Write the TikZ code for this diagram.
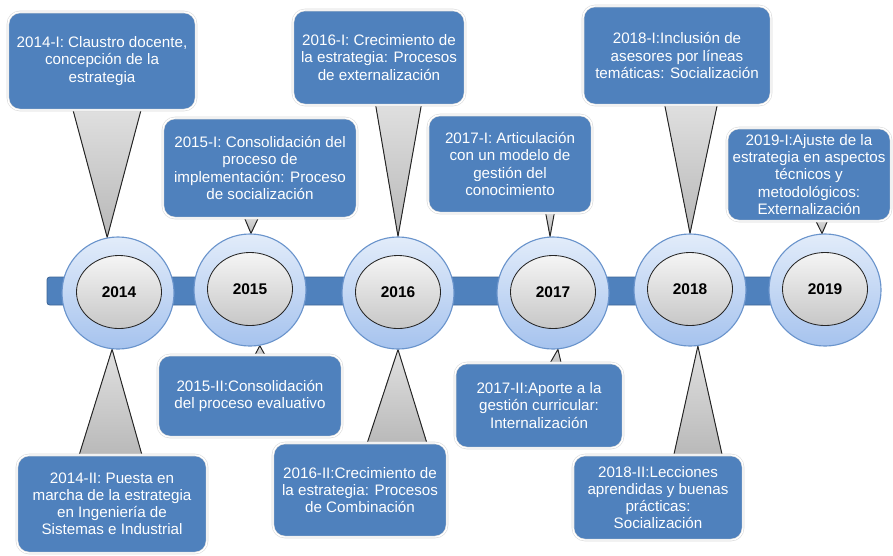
\documentclass[tikz,border=0pt]{standalone}
\usepackage{fontspec}
\setmainfont{Liberation Sans}
\usepackage{xcolor}
\usetikzlibrary{shapes.geometric, calc, backgrounds}
\definecolor{boxblue}{HTML}{4F81BD}
\definecolor{ringline}{HTML}{6A94CC}
\definecolor{ringtop}{HTML}{E2ECFA}
\definecolor{ringbottom}{HTML}{A6C3EE}
\tikzstyle{event} = [rectangle, rounded corners = 0.3cm, fill = boxblue, draw = black!15, double = white, double distance = 1pt, text = white, align = center, inner sep = 0pt, font = \fontsize{10.8}{12.2}\selectfont]
\tikzstyle{ring} = [circle, minimum size = 2.8cm, top color = ringtop, bottom color = ringbottom, draw = ringline, line width = 0.8pt]
\tikzstyle{core} = [ellipse, minimum width = 2.125cm, minimum height = 1.825cm, top color = black!4, bottom color = black!22, draw = black!85, line width = 0.6pt, font = \fontsize{11}{13}\selectfont\bfseries]
\tikzstyle{pointer} = [top color = black!12, bottom color = black!28, draw = black!85, line width = 0.7pt, line join = round]
\tikzstyle{bar} = [fill = boxblue, draw = boxblue!80!black, rounded corners = 2pt, line width = 0.6pt]

\begin{document}
\begin{tikzpicture}[x = 0.025cm, y = -0.025cm]
        \useasboundingbox (0,0) rectangle (893,555);
        % draw years
        \node[ring] (c14) at (118,293) {};
        \node[core] (e14) at (119,292) {2014};
        \node[ring] (c15) at (250,290) {};
        \node[core] (e15) at (250,289) {2015};
        \node[ring] (c16) at (398,293) {};
        \node[core] (e16) at (398,292) {2016};
        \node[ring] (c17) at (553,293) {};
        \node[core] (e17) at (553,292) {2017};
        \node[ring] (c18) at (690,290) {};
        \node[core] (e18) at (690,289) {2018};
        \node[ring] (c19) at (825,290) {};
        \node[core] (e19) at (825,289) {2019};

        % draw upper events
        \node[event, minimum width = 4.7cm, minimum height = 2.45cm] (b14a) at (102,61)
            {2014-I:  Claustro docente,\\ concepción de la\\ estrategia};
        \node[event, minimum width = 4.85cm, minimum height = 2.5cm] (b15a) at (260,168)
            {2015-I: Consolidación del\\ proceso de\\ implementación: Proceso\\ de socialización};
        \node[event, minimum width = 4.3cm, minimum height = 2.375cm] (b16a) at (379,57.5)
            {2016-I: Crecimiento de\\ la estrategia: Procesos\\ de externalización};
        \node[event, minimum width = 4.1cm, minimum height = 2.45cm] (b17a) at (510,164)
            {2017-I: Articulación\\ con un modelo de\\ gestión del\\ conocimiento};
        \node[event, minimum width = 4.7cm, minimum height = 2.475cm] (b18a) at (677,55.5)
            {2018-I:Inclusión de\\ asesores por líneas\\ temáticas: Socialización};
        \node[event, minimum width = 4.1cm, minimum height = 2.325cm] (b19a) at (809,174.5)
            {2019-I:Ajuste de la\\ estrategia en aspectos\\ técnicos y\\ metodológicos:\\ Externalización};

        % draw lower events
        \node[event, minimum width = 4.75cm, minimum height = 2.45cm] (b14b) at (112,504)
            {2014-II:  Puesta en\\ marcha de la estrategia\\ en Ingeniería de\\ Sistemas e Industrial};
        \node[event, minimum width = 4.6cm, minimum height = 2.05cm] (b15b) at (250,396)
            {2015-II:Consolidación\\ del proceso evaluativo};
        \node[event, minimum width = 4.35cm, minimum height = 2.35cm] (b16b) at (360,490)
            {2016-II:Crecimiento de\\ la estrategia: Procesos\\ de Combinación};
        \node[event, minimum width = 4.2cm, minimum height = 2.125cm] (b17b) at (539,405.5)
            {2017-II:Aporte a la\\ gestión curricular:\\ Internalización};
        \node[event, minimum width = 4.25cm, minimum height = 2.125cm] (b18b) at (658,497.5)
            {2018-II:Lecciones\\ aprendidas y buenas\\ prácticas:\\ Socialización};

        % draw bar and pointers
        \begin{pgfonlayer}{background}
            \draw[bar] (47,277) rectangle (860,305);
            \filldraw[pointer] ($(b14a.south)+(-30,-4)$) -- ($(b14a.south)+(40,-4)$) -- (c14.101) -- cycle;
            \filldraw[pointer] ($(b15a.south)+(-17,-4)$) -- ($(b15a.south)+(0,-4)$) -- (c15.89) -- cycle;
            \filldraw[pointer] ($(b16a.south)+(-4,-4)$) -- ($(b16a.south)+(43,-4)$) -- (c16.north) -- cycle;
            \filldraw[pointer] ($(b17a.south)+(35,-4)$) -- ($(b17a.south)+(45,-4)$) -- (c17.93) -- cycle;
            \filldraw[pointer] ($(b18a.south)+(-13,-4)$) -- ($(b18a.south)+(41,-4)$) -- (c18.north) -- cycle;
            \filldraw[pointer] ($(b19a.south)+(5,-4)$) -- ($(b19a.south)+(20,-4)$) -- (c19.93) -- cycle;
            \filldraw[pointer] ($(b14b.north)+(-34,4)$) -- ($(b14b.north)+(31,4)$) -- (c14.264) -- cycle;
            \filldraw[pointer] ($(b15b.north)+(3,4)$) -- ($(b15b.north)+(17,4)$) -- (c15.280) -- cycle;
            \filldraw[pointer] ($(b16b.north)+(6,4)$) -- ($(b16b.north)+(68,4)$) -- (c16.south) -- cycle;
            \filldraw[pointer] ($(b17b.north)+(9,4)$) -- ($(b17b.north)+(23,4)$) -- (c17.275) -- cycle;
            \filldraw[pointer] ($(b18b.north)+(15,4)$) -- ($(b18b.north)+(65,4)$) -- (c18.278) -- cycle;
        \end{pgfonlayer}
    \end{tikzpicture}
\end{document}
